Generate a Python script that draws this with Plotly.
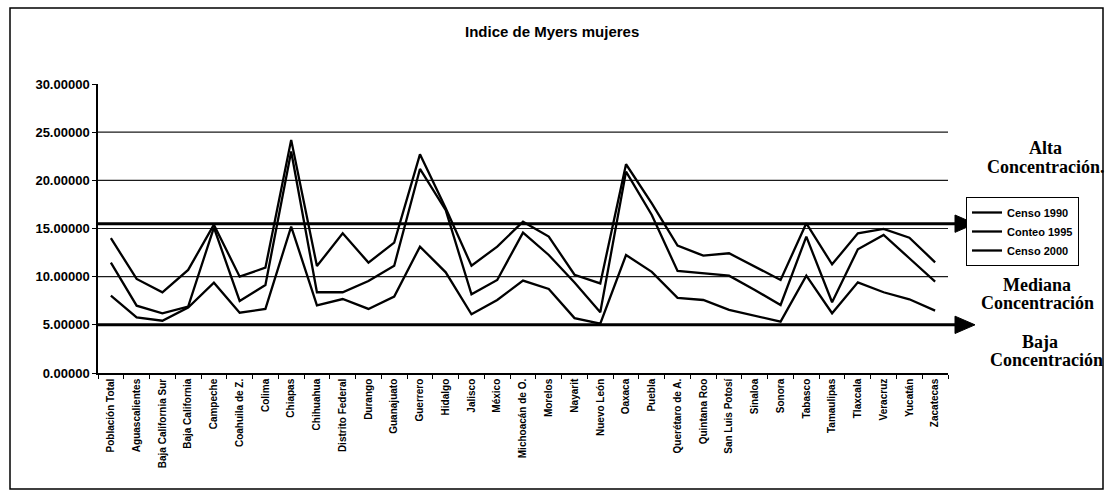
import plotly.graph_objects as go

# Entidades federativas (eje de categorías)
entidades = [
    "Población Total", "Aguascalientes", "Baja California Sur", "Baja California",
    "Campeche", "Coahuila de Z.", "Colima", "Chiapas", "Chihuahua",
    "Distrito Federal", "Durango", "Guanajuato", "Guerrero", "Hidalgo",
    "Jalisco", "México", "Michoacán de O.", "Morelos", "Nayarit", "Nuevo León",
    "Oaxaca", "Puebla", "Querétaro de A.", "Quintana Roo", "San Luis Potosí",
    "Sinaloa", "Sonora", "Tabasco", "Tamaulipas", "Tlaxcala", "Veracruz",
    "Yucatán", "Zacatecas",
]

# Índice de Myers, mujeres
censo_1990 = [14.00, 9.76, 8.38, 10.70, 15.40, 10.00, 10.94, 24.20, 11.10, 14.50,
              11.46, 13.53, 22.70, 17.10, 11.14, 13.12, 15.71, 14.16, 10.20, 9.30,
              21.67, 17.60, 13.22, 12.18, 12.43, 11.04, 9.66, 15.54, 11.28, 14.50,
              14.95, 14.05, 11.49]
conteo_1995 = [11.46, 6.99, 6.20, 6.90, 15.10, 7.48, 9.14, 23.00, 8.38, 8.38,
               9.55, 11.14, 21.18, 16.90, 8.17, 9.66, 14.57, 12.25, 9.40, 6.30,
               20.90, 16.40, 10.59, 10.35, 10.10, 8.62, 7.06, 14.16, 7.34, 12.84,
               14.33, 11.91, 9.48]
censo_2000 = [8.03, 5.78, 5.43, 6.80, 9.38, 6.26, 6.65, 15.20, 7.03, 7.68,
              6.65, 7.93, 13.12, 10.45, 6.09, 7.58, 9.59, 8.72, 5.70, 5.12,
              12.25, 10.50, 7.80, 7.58, 6.55, 5.90, 5.33, 10.10, 6.20, 9.41,
              8.38, 7.65, 6.47]

series = [("Censo 1990", censo_1990), ("Conteo 1995", conteo_1995), ("Censo 2000", censo_2000)]

# Umbrales de concentración y líneas de referencia
umbral_alta = 15.5
umbral_baja = 5.0
lineas_guia = [10, 15, 20, 25]
y_ticks = [0, 5, 10, 15, 20, 25, 30]

W, H = 1106, 494
ML, MR, MT, MB = 98, 158, 84, 121
PW, PH = W - ML - MR, H - MT - MB


def px(xp):
    return (xp - ML) / PW


def py(yp):
    return (H - MB - yp) / PH


SANS = "Liberation Sans"
SERIF = "Liberation Serif"

fig = go.Figure()
for nombre, valores in series:
    fig.add_trace(go.Scatter(
        x=entidades, y=valores, mode="lines", name=nombre,
        line=dict(color="black", width=2.3),
    ))

shapes = []
for g in lineas_guia:
    shapes.append(dict(type="line", xref="paper", yref="y", x0=0, x1=1, y0=g, y1=g,
                       line=dict(color="#1a1a1a", width=1.2), layer="below"))

# Flechas de umbral
tip, base, half = px(975), px(955), 0.9
for u in (umbral_alta, umbral_baja):
    shapes.append(dict(type="line", xref="paper", yref="y", x0=0, x1=base, y0=u, y1=u,
                       line=dict(color="black", width=3)))
    shapes.append(dict(type="path", xref="paper", yref="y",
                       path=f"M {base},{u - half} L {tip},{u} L {base},{u + half} Z",
                       fillcolor="black", line=dict(color="black", width=1)))

# Marco exterior del gráfico
shapes.append(dict(type="rect", xref="paper", yref="paper",
                   x0=px(10), x1=px(1103), y0=py(489), y1=py(8),
                   line=dict(color="black", width=1.5)))

annotations = [
    dict(text="Indice de Myers mujeres", xref="paper", yref="paper",
         x=px(552), y=py(32), showarrow=False, xanchor="center", yanchor="middle",
         font=dict(family=SANS, size=15, color="black", weight="bold")),
]
etiquetas = [
    ("Alta", 1045, 148), ("Concentración.", 1045, 167),
    ("Mediana", 1037, 285), ("Concentración", 1037, 303),
    ("Baja", 1040, 342), ("Concentración", 1046, 360),
]
for texto, xx, yy in etiquetas:
    annotations.append(dict(text=texto, xref="paper", yref="paper", x=px(xx), y=py(yy),
                            showarrow=False, xanchor="center", yanchor="middle",
                            font=dict(family=SERIF, size=18, color="black", weight="bold")))

fig.update_layout(
    width=W, height=H,
    margin=dict(l=ML, r=MR, t=MT, b=MB),
    paper_bgcolor="white", plot_bgcolor="white",
    showlegend=True,
    legend=dict(x=px(966), y=py(197), xanchor="left", yanchor="top",
                bordercolor="black", borderwidth=1, bgcolor="white",
                font=dict(family=SANS, size=11, color="black", weight="bold"),
                tracegroupgap=0, itemwidth=30),
    xaxis=dict(type="category", range=[-0.5, len(entidades) - 0.5],
               showgrid=False, showline=True, linecolor="black", linewidth=1.5,
               ticks="outside", tickson="boundaries", ticklen=4, tickcolor="black",
               tickangle=-90,
               tickfont=dict(family=SANS, size=10, color="black", weight="bold")),
    yaxis=dict(range=[0, 30], tickvals=y_ticks, tickformat=".5f",
               showgrid=False, zeroline=False, showline=True, linecolor="black",
               linewidth=1.5, ticks="outside", ticklen=4, tickcolor="black",
               tickfont=dict(family=SANS, size=13, color="black", weight="bold")),
    shapes=shapes,
    annotations=annotations,
)

fig.write_html("out.html", config={"displayModeBar": False})
